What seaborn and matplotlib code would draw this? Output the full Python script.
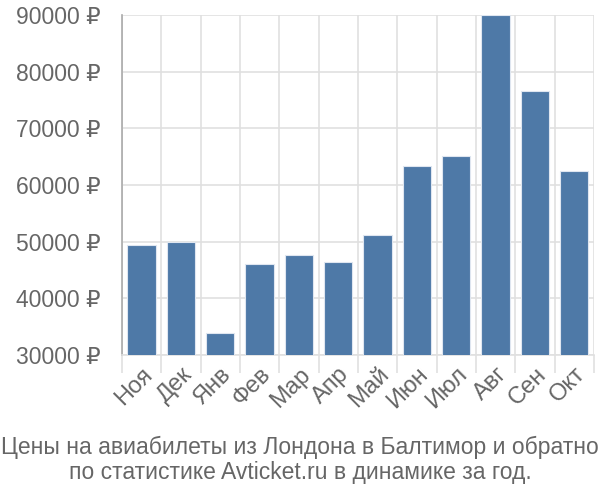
import matplotlib
matplotlib.use("Agg")
import matplotlib.pyplot as plt
import seaborn as sns
import pandas as pd
import numpy as np
from matplotlib.ticker import FixedLocator

months = ["Ноя", "Дек", "Янв", "Фев", "Мар", "Апр", "Май", "Июн", "Июл", "Авг", "Сен", "Окт"]
prices = [49500, 50000, 33900, 46000, 47600, 46400, 51100, 63400, 65200, 90000, 76500, 62400]
yticks = [30000, 40000, 50000, 60000, 70000, 80000, 90000]
title_lines = ["Цены на авиабилеты из Лондона в Балтимор и обратно",
               "по статистике Avticket.ru в динамике за год."]

sns.set_theme(style="white")
plt.rcParams['font.family'] = ['Liberation Sans', 'DejaVu Sans']

df = pd.DataFrame({"month": months, "price": prices})

fig = plt.figure(figsize=(6, 5), dpi=100)
ax = fig.add_axes([0.203, 0.29, 0.787, 0.68])

sns.barplot(data=df, x="month", y="price", color="#4e79a7", saturation=1, width=0.72,
            edgecolor="#dfe6f0", linewidth=0.8, ax=ax, zorder=3)

ax.set_ylim(30000, 90000)
ax.set_xlim(-0.5, len(months) - 0.5)
ax.set_yticks(yticks)
ax.set_yticklabels([f"{v} ₽" for v in yticks], fontsize=16.5, color="#666666")
ax.set_xticks(range(len(months)))
ax.set_xticklabels(months, rotation=45, ha="right", rotation_mode="anchor",
                   fontsize=17, color="#666666")
ax.xaxis.set_minor_locator(FixedLocator(np.arange(-0.5, len(months), 1.0)))

ax.grid(True, axis="y", which="major", color="#e0e0e0", linewidth=1.2, zorder=0)
ax.grid(True, axis="x", which="minor", color="#e0e0e0", linewidth=1.2, zorder=0)
ax.grid(False, axis="x", which="major")
ax.tick_params(axis="y", which="major", length=14, color="#e0e0e0", width=1.2, pad=1)
ax.tick_params(axis="x", which="major", length=0, pad=6)
ax.tick_params(axis="x", which="minor", length=13, color="#e0e0e0", width=1.2, bottom=True)

for s in ["top", "right"]:
    ax.spines[s].set_visible(False)
ax.spines["left"].set_color("#aaaaaa")
ax.spines["left"].set_linewidth(1.2)
ax.spines["bottom"].set_color("#e0e0e0")
ax.spines["bottom"].set_linewidth(1.2)
ax.set_xlabel("")
ax.set_ylabel("")

fig.text(0.5, 0.106, title_lines[0], ha="center", va="center", fontsize=16.5, color="#666666")
fig.text(0.5, 0.054, title_lines[1], ha="center", va="center", fontsize=16.5, color="#666666")

fig.savefig("out.png", dpi=100)
